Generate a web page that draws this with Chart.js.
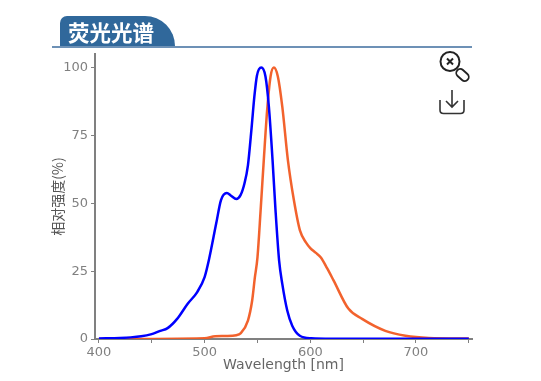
<!DOCTYPE html>
<html>
<head>
<meta charset="utf-8">
<title>荧光光谱</title>
<script src="https://cdn.jsdelivr.net/npm/chart.js@4"></script>
<style>
    html, body { margin: 0; padding: 0; background: #fff; overflow: hidden; }
    #wrap { position: relative; width: 541px; height: 381px; }
    #chart { position: absolute; left: 0; top: 0; }
    #tab {
        position: absolute; left: 60px; top: 16px; width: 115px; height: 30px;
        background: #30689b; border-radius: 7px 30px 0 0 / 7px 30px 0 0;
        color: #fff; font: bold 21.5px/31px "Noto Sans CJK SC", sans-serif;
        padding-left: 8px; box-sizing: border-box; white-space: nowrap;
    }
    #rule { position: absolute; left: 52px; top: 46px; width: 420px; height: 2px; background: #6d91b6; }
    .icon { position: absolute; left: 436px; }
</style>
</head>
<body>
<div id="wrap">
    <canvas id="chart" width="541" height="381"></canvas>
    <div id="tab">荧光光谱</div>
    <div id="rule"></div>
    <svg class="icon" style="top:48px" width="36" height="36" fill="none" stroke="#222">
        <circle cx="14" cy="13.500" r="9.500" stroke-width="2"/>
        <path d="M11 10.500l6 6M17 10.500l-6 6" stroke-width="2"/>
        <rect x="-7" y="-4" width="14" height="8" rx="4" transform="translate(26.500 27) rotate(42)" stroke-width="1.800"/>
    </svg>
    <svg class="icon" style="top:88px" width="36" height="30" fill="none" stroke="#333" stroke-width="1.600">
        <path d="M16 2v17M10 13l6 6 6-6"/>
        <path d="M4 12v10q0 3.500 3.500 3.500h17q3.500 0 3.500-3.500v-10"/>
    </svg>
</div>
<script>
const blueWavelengths = [400, 420, 430, 440, 449, 458, 465, 474, 484, 493, 500, 504, 511, 515.5, 521, 525, 530, 534, 537.7, 541, 544.5, 547, 549.5, 553.6, 557.6, 560.8, 564.3, 567.1, 570.5, 573.5, 578.2, 582.9, 590.1, 601, 620, 750];
const blueValues = [0.2, 0.4, 0.6, 1, 1.7, 3, 4, 7.4, 13, 17.3, 22.8, 29, 42.6, 51.2, 53.8, 52.8, 51.6, 53, 57.3, 64, 78, 89, 97, 100, 96.7, 85.6, 65.9, 47.4, 28.9, 20.3, 10.5, 4.9, 1.2, 0.25, 0.1, 0.1];

const orangeWavelengths = [400, 500, 510, 520, 530, 534, 541, 545, 547.5, 550, 553, 556, 559.2, 562.4, 565.5, 569.3, 573.5, 578.8, 584.5, 590.2, 596, 600, 605, 610, 616, 622, 636, 649, 671, 690, 712, 750];
const orangeValues = [0, 0.3, 1, 1.1, 1.4, 2.1, 6.8, 14.2, 22.5, 30, 47.4, 65.9, 84.4, 96.7, 100, 96.7, 85.6, 65.9, 51.1, 40, 35.5, 33.5, 31.8, 30, 26, 21.6, 11.2, 7.4, 3, 1.2, 0.4, 0.2];

const xTickValues = [400, 450, 500, 550, 600, 650, 700, 750];
const xTickLabels = ['400', '', '500', '', '600', '', '700', ''];
const yTickValues = [0, 25, 50, 75, 100];

const xLabel = 'Wavelength [nm]';
const yLabel = '相对强度(%)';

function toPoints(xs, ys) {
    return xs.map((x, i) => ({ x: x, y: ys[i] }));
}

const axisGrey = '#808080';
const tickFont = { family: '"DejaVu Sans"', size: 13 };

new Chart(document.getElementById('chart'), {
    type: 'line',
    data: {
        datasets: [
            {
                data: toPoints(blueWavelengths, blueValues),
                borderColor: '#0000ff',
                borderWidth: 2.5,
                pointRadius: 0,
                cubicInterpolationMode: 'monotone',
            },
            {
                data: toPoints(orangeWavelengths, orangeValues),
                borderColor: 'rgba(241, 90, 34, 0.95)',
                borderWidth: 2.5,
                pointRadius: 0,
                cubicInterpolationMode: 'monotone',
            },
        ],
    },
    options: {
        responsive: false,
        animation: false,
        layout: { padding: { left: 49, top: 54, right: 69, bottom: 0 } },
        plugins: { legend: { display: false }, tooltip: { enabled: false } },
        scales: {
            x: {
                type: 'linear',
                min: 396.3,
                max: 753,
                afterBuildTicks: axis => { axis.ticks = xTickValues.map(v => ({ value: v })); },
                afterFit: axis => { axis.height = 42; },
                ticks: {
                    autoSkip: false,
                    maxRotation: 0,
                    padding: 2,
                    color: axisGrey,
                    font: tickFont,
                    callback: value => xTickLabels[xTickValues.indexOf(value)],
                },
                grid: { drawOnChartArea: false, tickLength: 4, tickColor: axisGrey },
                border: { color: axisGrey, width: 2 },
                title: {
                    display: true,
                    text: xLabel,
                    color: '#666',
                    font: { family: '"DejaVu Sans"', size: 14 },
                    padding: { top: 0, bottom: 7 },
                },
            },
            y: {
                min: 0,
                max: 105,
                afterBuildTicks: axis => { axis.ticks = yTickValues.map(v => ({ value: v })); },
                afterFit: axis => { axis.width = 46; },
                ticks: { padding: 3, color: axisGrey, font: tickFont },
                grid: { drawOnChartArea: false, tickLength: 4, tickColor: axisGrey },
                border: { color: axisGrey, width: 2 },
                title: {
                    display: true,
                    text: yLabel,
                    color: '#555',
                    font: { family: '"Noto Sans CJK SC"', size: 14 },
                    padding: 0,
                },
            },
        },
    },
});
</script>
</body>
</html>
